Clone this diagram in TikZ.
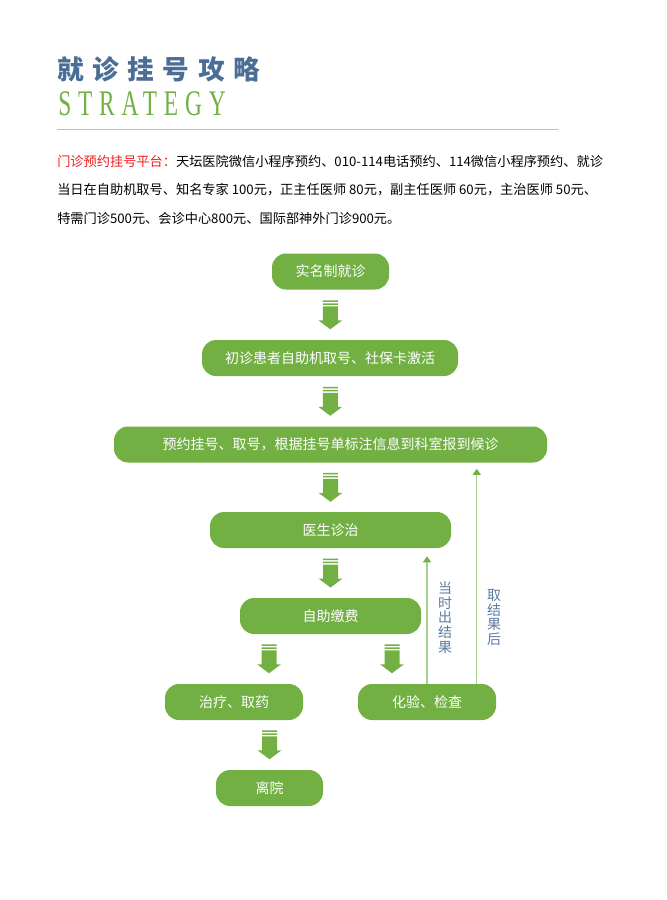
\documentclass[tikz,border=0pt]{standalone}
\usepackage{fontspec}
\setmainfont{Noto Sans CJK SC}
\newfontfamily\titlecjk[LetterSpace=32]{Noto Sans CJK SC}
\newfontfamily\latinserif[FakeStretch=0.65,LetterSpace=19]{Liberation Serif}
\usetikzlibrary{arrows.meta,calc}
\definecolor{BoxClr}{HTML}{72B044}
\definecolor{LineClr}{HTML}{A9D18E}
\definecolor{TitleClr}{HTML}{4A6E96}
\definecolor{NoteClr}{HTML}{5B7B9F}
\definecolor{HintClr}{HTML}{F01E1E}

\begin{document}
\begin{tikzpicture}[x=0.75pt,y=-0.75pt,
  flowbox/.style={fill=BoxClr,rounded corners=10.5pt,minimum width=#1*0.75pt,minimum height=27pt,
    inner sep=0pt,text=white,font=\fontsize{10.5pt}{12pt}\selectfont},
  back/.style={LineClr,line width=0.9pt,-{Triangle[width=6pt,length=4.5pt,color=BoxClr]}},
  note/.style={NoteClr,align=center,font=\fontsize{10.5pt}{11pt}\selectfont},
  stripedown/.pic={
    \fill[BoxClr] (-7.5,0) rectangle (7.5,1.5) (-7.5,3) rectangle (7.5,4.5);
    \fill[BoxClr] (-7.5,6) -- (7.5,6) -- (7.5,20) -- (12,20) -- (0,29) -- (-12,20) -- (-7.5,20) -- cycle;
  }]
\useasboundingbox (0,0) rectangle (667,900);

% header
\node[anchor=west,inner sep=0pt,TitleClr,font=\titlecjk\bfseries\fontsize{20pt}{24pt}\selectfont] (title) at (57,69) {就诊挂号攻略};
\node[anchor=west,inner sep=0pt,BoxClr,font=\latinserif\fontsize{27pt}{30pt}\selectfont] (sub) at (58,104) {STRATEGY};
\draw[LineClr,line width=0.75pt] (57,129) -- (558,129);

\node[anchor=north west,align=left,inner sep=0pt,font=\fontsize{9.9pt}{21.4pt}\selectfont] (intro) at (57,155)
  {{\color{HintClr}门诊预约挂号平台：}天坛医院微信小程序预约、010-114电话预约、114微信小程序预约、就诊\\
   当日在自助机取号、知名专家 100元，正主任医师 80元，副主任医师 60元，主治医师 50元、\\
   特需门诊500元、会诊中心800元、国际部神外门诊900元。};

% flow
\node[flowbox=117] (reg) at (330.5,271.5) {实名制就诊};
\node[flowbox=256] (kiosk) at (330,358) {初诊患者自助机取号、社保卡激活};
\node[flowbox=433] (book) at (330.5,444.5) {预约挂号、取号，根据挂号单标注信息到科室报到候诊};
\node[flowbox=241] (doc) at (330.5,530) {医生诊治};
\node[flowbox=181] (pay) at (330.5,616) {自助缴费};
\node[flowbox=138] (treat) at (234,702) {治疗、取药};
\node[flowbox=138] (lab) at (427,702) {化验、检查};
\node[flowbox=107] (leave) at (269.5,788) {离院};

\pic at ($(reg.south)!.5!(kiosk.north)+(0,-14.5)$) {stripedown};
\pic at ($(kiosk.south)!.5!(book.north)+(0,-14.5)$) {stripedown};
\pic at ($(book.south)!.5!(doc.north)+(0,-14.5)$) {stripedown};
\pic at ($(doc.south)!.5!(pay.north)+(0,-14.5)$) {stripedown};
\pic at ($(pay.south)+(-61.5,10)$) {stripedown};
\pic at ($(pay.south)+(61.5,10)$) {stripedown};
\pic at ($(leave.north |- treat.south)+(0,10)$) {stripedown};

% results back
\draw[back] (lab.north) -- ($(lab.north |- doc.south)+(0,8)$);
\draw[back] ($(lab.north east)+(-19.5,0)$) coordinate (up) -- ($(up |- book.south)+(0,6)$);
\node[note] (quick) at (445,617.5) {当\\时\\出\\结\\果};
\node[note] (later) at (494,617.5) {取\\结\\果\\后};

\end{tikzpicture}
\end{document}
